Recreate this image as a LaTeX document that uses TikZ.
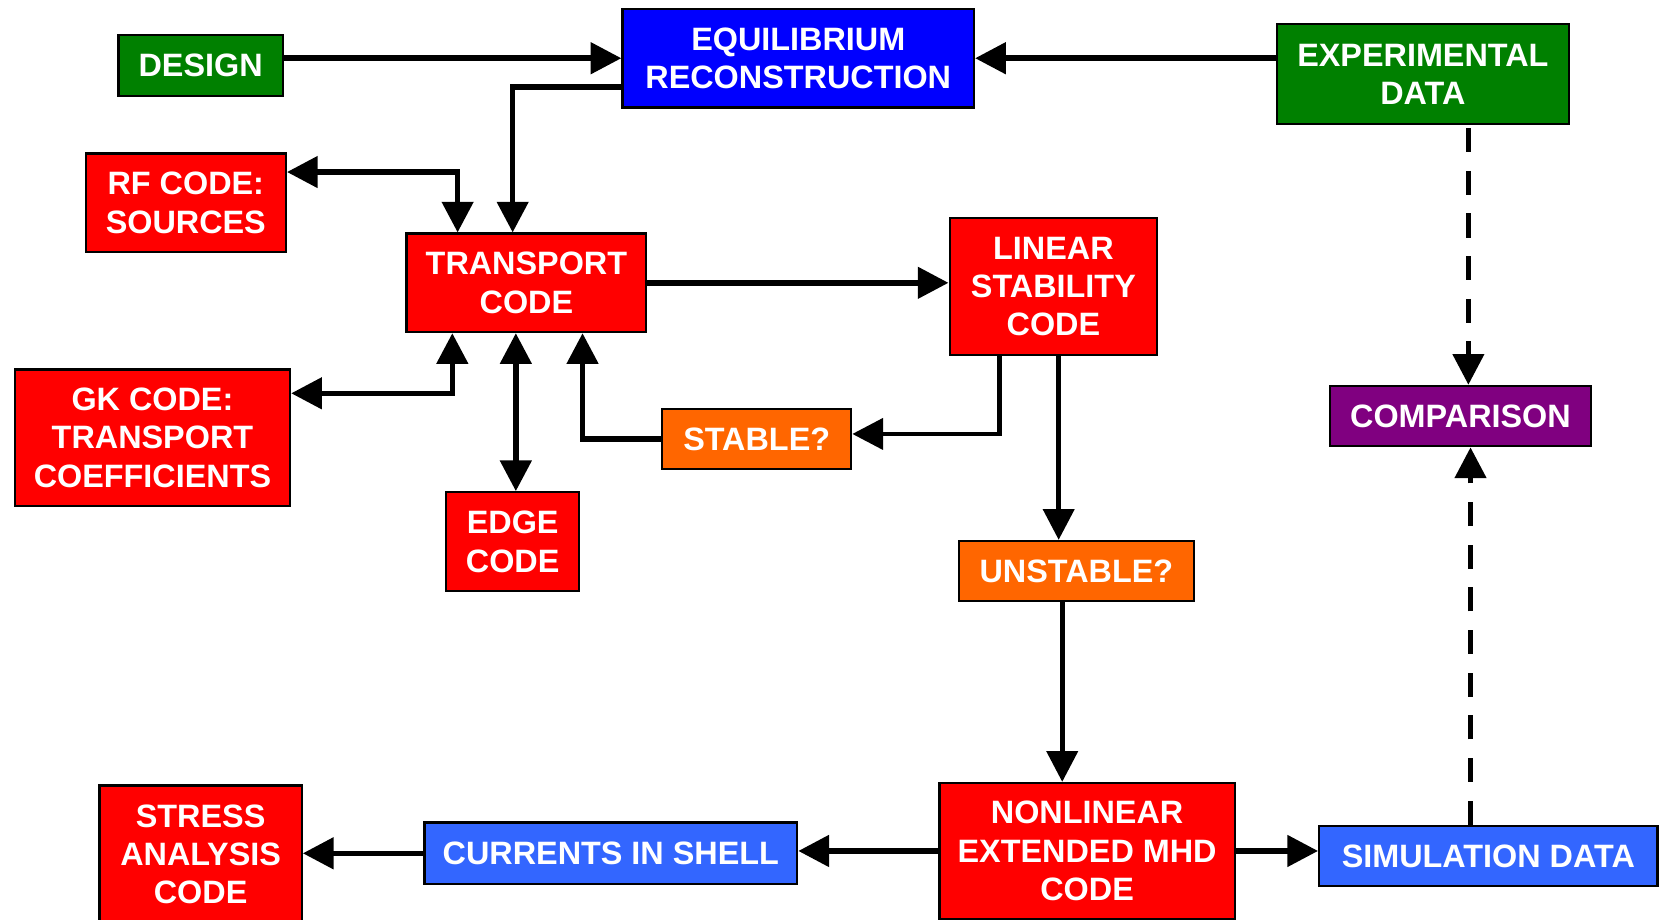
\documentclass[tikz,border=0pt]{standalone}
\usepackage{fontspec}
\setmainfont{Liberation Sans}
\usepackage{xcolor}
\usetikzlibrary{arrows.meta, calc}

\definecolor{dgreen}{RGB}{0,128,0}
\definecolor{eqblue}{RGB}{0,0,255}
\definecolor{codered}{RGB}{255,0,0}
\definecolor{askorange}{RGB}{255,102,0}
\definecolor{cmppurple}{RGB}{128,0,128}
\definecolor{outblue}{RGB}{51,102,255}

\begin{document}
\begin{tikzpicture}[
        block/.style={draw=black, line width=0.6pt, text=white, align=center, inner sep=0pt,
            font=\fontsize{8.7pt}{10.3pt}\selectfont\bfseries},
        inbox/.style={block, fill=dgreen},
        eqbox/.style={block, fill=eqblue},
        codebox/.style={block, fill=codered},
        askbox/.style={block, fill=askorange},
        cmpbox/.style={block, fill=cmppurple},
        outbox/.style={block, fill=outblue},
        flow/.style={line width=1.5pt, -{Triangle[length=0.29cm, width=0.29cm]}},
        twoway/.style={line width=1.5pt, {Triangle[length=0.29cm, width=0.29cm]}-{Triangle[length=0.29cm, width=0.29cm]}},
        thinflow/.style={flow, line width=1.3pt},
        dashflow/.style={flow, line width=1.4pt, dash pattern=on 0.227cm off 0.176cm}
    ]
    \useasboundingbox (0, 0) rectangle (15.68, -8.69);

    % top row
    \node[inbox, minimum width=1.55cm, minimum height=0.58cm] (design) at (1.895, -0.62) {DESIGN};
    \node[eqbox, minimum width=3.32cm, minimum height=0.93cm] (equil) at (7.54, -0.55) {EQUILIBRIUM\\RECONSTRUCTION};
    \node[inbox, minimum width=2.76cm, minimum height=0.94cm] (expdata) at (13.44, -0.70) {EXPERIMENTAL\\DATA};

    % transport loop
    \node[codebox, minimum width=1.89cm, minimum height=0.93cm] (rfcode) at (1.755, -1.915) {RF CODE:\\SOURCES};
    \node[codebox, minimum width=2.265cm, minimum height=0.93cm] (transport) at (4.9725, -2.6715) {TRANSPORT\\CODE};
    \node[codebox, minimum width=1.96cm, minimum height=1.29cm] (linear) at (9.95, -2.705) {LINEAR\\STABILITY\\CODE};
    \node[codebox, minimum width=2.60cm, minimum height=1.29cm] (gkcode) at (1.44, -4.135) {GK CODE:\\TRANSPORT\\COEFFICIENTS};
    \node[askbox, minimum width=1.785cm, minimum height=0.565cm] (stable) at (7.1475, -4.149) {STABLE?};
    \node[codebox, minimum width=1.255cm, minimum height=0.935cm] (edge) at (4.8425, -5.1175) {EDGE\\CODE};

    % comparison column
    \node[cmpbox, minimum width=2.47cm, minimum height=0.57cm] (comparison) at (13.795, -3.93) {COMPARISON};
    \node[askbox, minimum width=2.215cm, minimum height=0.57cm] (unstable) at (10.1675, -5.395) {UNSTABLE?};

    % bottom row
    \node[codebox, minimum width=1.91cm, minimum height=1.30cm] (stress) at (1.895, -8.07) {STRESS\\ANALYSIS\\CODE};
    \node[outbox, minimum width=3.52cm, minimum height=0.58cm] (currents) at (5.77, -8.06) {CURRENTS IN SHELL};
    \node[codebox, minimum width=2.79cm, minimum height=1.284cm] (nonlinear) at (10.2685, -8.038) {NONLINEAR\\EXTENDED MHD\\CODE};
    \node[outbox, minimum width=3.195cm, minimum height=0.57cm] (simdata) at (14.058, -8.085) {SIMULATION DATA};

    % connection points
    \coordinate (eqout) at ($(equil.west)+(0, -0.27)$);
    \coordinate (edgein) at ($(edge.north)+(0.03, 0)$);
    \coordinate (linout) at ($(linear.south)+(0.05, 0)$);
    \coordinate (mhdin) at ($(nonlinear.north)+(-0.235, 0)$);
    \coordinate (cmpin) at ($(comparison.north)+(0.075, 0)$);
    \coordinate (simout) at ($(simdata.north)+(-0.168, 0)$);

    \draw[flow] (design.east |- equil.west) -- (equil.west);
    \draw[flow] (expdata.west |- equil.east) -- (equil.east);
    \draw[flow] (eqout) -| ($(transport.north)+(-0.13, 0)$);
    \draw[twoway] ($(rfcode.east)+(0, 0.29)$) -| ($(transport.north)+(-0.65, 0)$);
    \draw[twoway] ($(gkcode.east)+(0, 0.42)$) -| ($(transport.south)+(-0.70, 0)$);
    \draw[twoway] (transport.south -| edgein) -- (edgein);
    \draw[flow] (stable.west) -| ($(transport.south)+(0.53, 0)$);
    \draw[flow] (transport.east) -- (transport.east -| linear.west);
    \draw[thinflow] ($(linear.south)+(-0.51, 0)$) |- ($(stable.east)+(0, 0.05)$);
    \draw[thinflow] (linout) -- (linout |- unstable.north);
    \draw[thinflow] (unstable.south -| mhdin) -- (mhdin);
    \draw[flow] (nonlinear.west) -- (nonlinear.west -| currents.east);
    \draw[flow] (currents.west) -- (currents.west -| stress.east);
    \draw[flow] (nonlinear.east) -- (nonlinear.east -| simdata.west);
    \draw[dashflow] ($(expdata.south -| cmpin)+(0, -0.03)$) -- (cmpin);
    \draw[dashflow] (simout) -- (simout |- comparison.south);
\end{tikzpicture}
\end{document}
